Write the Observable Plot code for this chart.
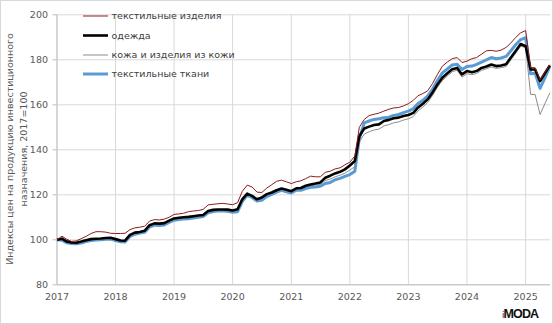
<!DOCTYPE html>
<html><head><meta charset="utf-8">
<script src="https://cdn.jsdelivr.net/npm/d3@7"></script>
<script src="https://cdn.jsdelivr.net/npm/@observablehq/plot@0.6"></script>
<style>html,body{margin:0;padding:0;background:#fff;} svg{display:block}</style>
</head><body><div id="chart"></div>
<script>
const seriesNames = ["текстильные изделия", "одежда", "кожа и изделия из кожи", "текстильные ткани"];
const seriesColors = ["#8b1c1c", "#000000", "#8c8c8c", "#5b9bd5"];
const seriesWidths = [1, 2.6, 1, 3];

const textileProducts = [
  100.0, 101.6, 100.3, 99.3, 99.5, 100.5, 101.5, 102.8, 103.6, 103.6, 103.4, 102.9,
  102.8, 102.8, 102.9, 104.5, 105.3, 105.6, 106.0, 108.3, 109.0, 108.8, 109.2, 110.0,
  111.3, 111.5, 111.8, 112.5, 112.8, 113.0, 113.5, 115.5, 115.8, 116.0, 116.2, 115.9,
  115.6, 116.5, 121.5, 124.3, 123.5, 121.2, 121.0, 123.0, 124.5, 126.0, 126.5, 125.8,
  125.0, 125.8, 126.2, 127.2, 128.3, 128.0, 128.0, 130.0, 130.5, 131.5, 132.0, 133.3,
  134.5, 137.2, 150.0, 153.5, 155.2, 155.8, 156.3, 157.2, 158.0, 158.6, 158.8, 159.5,
  160.5, 162.0, 164.0, 165.0, 166.2, 169.5, 173.5, 177.2, 179.0, 180.5, 181.0, 178.8,
  179.4, 180.5, 181.0, 182.5, 184.0, 184.2, 183.8, 184.3, 185.5, 187.5, 190.0, 192.0,
  193.0, 176.5, 176.5, 171.0, 174.3, 177.8
];
const clothing = [
  100.0, 100.5, 99.3, 98.8, 98.7, 99.2, 99.8, 100.3, 100.5, 100.6, 100.8, 100.9,
  100.3, 99.7, 99.6, 102.2, 103.2, 103.5, 104.0, 106.5, 107.3, 107.2, 107.4, 108.5,
  109.5, 109.8, 110.0, 110.2, 110.5, 110.8, 111.0, 112.8, 113.3, 113.5, 113.5, 113.4,
  113.0, 113.6, 118.0, 120.5, 119.5, 118.0, 118.8, 120.3, 121.0, 122.0, 122.8, 122.2,
  121.6, 122.9, 123.0, 124.0, 124.6, 125.0, 125.5, 127.6, 128.5, 129.5, 130.2, 131.3,
  133.0, 135.0, 146.0, 149.5, 150.3, 151.0, 151.3, 152.8, 153.3, 154.0, 154.3, 155.0,
  155.5, 156.4, 158.7, 160.5, 162.4, 165.5, 169.0, 172.0, 174.0, 175.8, 176.4, 173.5,
  175.0, 174.5, 175.0, 176.4, 177.0, 177.9, 177.2, 177.5, 178.0, 181.0, 184.0, 187.0,
  186.0, 175.7, 175.7, 170.5, 174.0, 177.5
];
const leather = [
  100.0, 100.3, 99.1, 98.6, 98.5, 99.0, 99.5, 100.0, 100.2, 100.3, 100.5, 100.6,
  100.0, 99.4, 99.3, 101.9, 102.9, 103.2, 103.7, 106.1, 106.9, 106.8, 107.0, 108.1,
  109.1, 109.4, 109.6, 109.8, 110.1, 110.4, 110.6, 112.4, 112.9, 113.1, 113.1, 113.0,
  112.6, 113.2, 117.6, 120.1, 119.1, 117.6, 118.4, 119.9, 120.6, 121.6, 122.4, 121.8,
  121.1, 122.4, 122.5, 123.5, 124.0, 124.3, 124.6, 126.3, 127.0, 128.0, 128.7, 129.6,
  131.0, 132.5, 143.5, 147.0, 148.0, 148.8, 149.2, 150.6, 151.2, 152.0, 152.4, 153.2,
  153.8, 154.8, 157.2, 159.0, 161.0, 164.2, 167.8, 170.8, 172.8, 174.7, 175.4, 172.3,
  173.8, 173.4, 173.9, 175.3, 176.0, 176.8, 176.2, 176.5, 177.0, 180.0, 183.0, 186.0,
  185.5, 164.6, 164.6, 155.7, 160.5, 165.3
];
const textileFabrics = [
  100.0, 99.8, 98.7, 98.3, 98.2, 98.6, 99.2, 99.7, 99.9, 100.0, 100.2, 100.3,
  99.7, 99.1, 99.0, 101.5, 102.5, 103.0, 103.3, 105.7, 106.5, 106.4, 106.6, 107.7,
  108.7, 109.0, 109.2, 109.4, 109.7, 110.0, 110.3, 112.0, 112.6, 112.8, 112.8, 112.7,
  112.2, 112.5, 117.0, 119.8, 118.8, 117.2, 117.6, 119.2, 120.2, 121.2, 122.0, 121.3,
  120.8, 122.0, 122.0, 122.8, 123.3, 123.5, 123.8, 125.0, 125.5, 126.7, 127.3, 128.2,
  129.0, 130.5, 145.0, 152.0, 152.8, 153.5, 153.8, 154.2, 154.5, 155.3, 155.7, 156.5,
  157.2, 158.3, 160.5, 162.0, 163.9, 167.0, 170.8, 174.2, 176.0, 177.7, 178.0, 175.7,
  177.0, 177.2, 178.0, 179.0, 180.0, 181.0, 180.5, 180.8, 181.5, 184.0, 186.8, 189.0,
  189.8, 173.8, 174.0, 167.3, 172.0, 177.2
];
const yTicks = [80, 100, 120, 140, 160, 180, 200];
const xTickYears = [2017, 2018, 2019, 2020, 2021, 2022, 2023, 2024, 2025];
const yLabelLines = ["Индексы цен на продукцию инвестиционного", "назначения, 2017=100"];

const seriesValues = [textileProducts, clothing, leather, textileFabrics];
const dates = d3.utcMonth.range(new Date(Date.UTC(2017, 0, 1)), new Date(Date.UTC(2025, 6, 1)));
const xTicks = xTickYears.map(y => new Date(Date.UTC(y, 0, 1)));

const rows = s => seriesValues[s].map((v, i) => ({date: dates[i], value: v, series: seriesNames[s]}));
const drawOrder = [3, 2, 1, 0];

const chart = Plot.plot({
  width: 553, height: 324,
  marginLeft: 56.5, marginRight: 3, marginTop: 14.3, marginBottom: 39.7,
  style: {fontFamily: "DejaVu Sans", fontSize: "9.5px", color: "#595959", background: "#fff"},
  x: {type: "utc", domain: [new Date(Date.UTC(2017, 0, 1)), new Date(Date.UTC(2025, 5, 5))]},
  y: {domain: [80, 200]},
  marks: [
    Plot.gridY(yTicks, {stroke: "#d9d9d9", strokeOpacity: 1}),
    Plot.gridX(xTicks, {stroke: "#d9d9d9", strokeOpacity: 1}),
    Plot.axisY(yTicks, {tickSize: 4, tickPadding: 5, stroke: "#bfbfbf", label: null}),
    Plot.axisX(xTicks, {tickSize: 0, tickPadding: 8, tickFormat: d => String(d.getUTCFullYear()), label: null}),
    Plot.ruleX([xTicks[0]], {stroke: "#bfbfbf"}),
    Plot.ruleY([80], {stroke: "#bfbfbf"}),
    ...drawOrder.map(s => Plot.line(rows(s), {
      x: "date", y: "value", stroke: seriesColors[s], strokeWidth: seriesWidths[s],
      strokeLinejoin: "round", strokeLinecap: "butt"
    }))
  ]
});

const svg = d3.select(chart);
// frame
svg.append("rect").attr("x", 0.5).attr("y", 0.5).attr("width", 552).attr("height", 323)
  .attr("fill", "none").attr("stroke", "#d9d9d9");
// y label
const yl = svg.append("g").attr("font-family", "DejaVu Sans").attr("font-size", 9.5).attr("fill", "#595959")
  .attr("text-anchor", "middle");
yLabelLines.forEach((t, i) => {
  yl.append("text").attr("transform", `translate(${13 + i * 14},149) rotate(-90)`).text(t);
});
// legend
const lg = svg.append("g").attr("font-family", "DejaVu Sans").attr("font-size", 9.5).attr("fill", "#404040")
  .attr("text-anchor", "start");
const legendY = [16, 35.5, 55, 74];
seriesNames.forEach((n, i) => {
  lg.append("line").attr("x1", 83).attr("x2", 108).attr("y1", legendY[i]).attr("y2", legendY[i])
    .attr("stroke", seriesColors[i]).attr("stroke-width", seriesWidths[i]);
  lg.append("text").attr("x", 111.5).attr("y", legendY[i] + 3.4).text(n);
});
// logo
const logo = svg.append("text").attr("x", 502).attr("y", 318).attr("font-family", "Liberation Sans")
  .attr("font-size", 12.5).attr("font-weight", "bold").attr("letter-spacing", -0.9).attr("text-anchor", "start");
logo.append("tspan").attr("fill", "#a0607f").attr("font-size", 9).text("i");
logo.append("tspan").attr("fill", "#111").text("MODA");

document.getElementById("chart").appendChild(chart);
</script>
</body></html>
